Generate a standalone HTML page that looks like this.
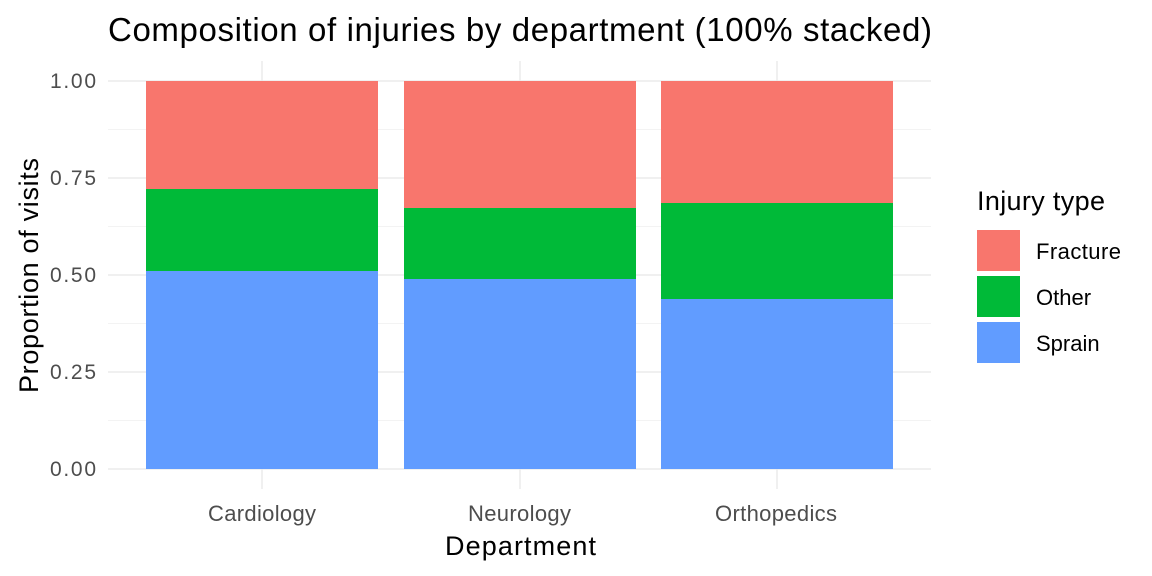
<!DOCTYPE html>
<html><head><meta charset="utf-8"><style>
html,body{margin:0;padding:0;background:#fff;}
svg{display:block;font-family:"Liberation Sans",Arial,sans-serif;}
</style></head><body>
<svg width="1152" height="576" viewBox="0 0 1152 576" xmlns="http://www.w3.org/2000/svg">
<rect width="1152" height="576" fill="#fff"/>
<g stroke="#f3f3f3" stroke-width="1">
<line x1="108" x2="931" y1="129.5" y2="129.5"/>
<line x1="108" x2="931" y1="226.5" y2="226.5"/>
<line x1="108" x2="931" y1="323.5" y2="323.5"/>
<line x1="108" x2="931" y1="420.5" y2="420.5"/>
</g>
<g stroke="#ebebeb" stroke-width="1.5">
<line x1="108" x2="931" y1="81" y2="81"/>
<line x1="108" x2="931" y1="178" y2="178"/>
<line x1="108" x2="931" y1="275" y2="275"/>
<line x1="108" x2="931" y1="372" y2="372"/>
<line x1="108" x2="931" y1="469" y2="469"/>
<line x1="262" x2="262" y1="61" y2="489"/>
<line x1="520" x2="520" y1="61" y2="489"/>
<line x1="777" x2="777" y1="61" y2="489"/>
</g>
<rect x="146" y="81" width="232" height="108" fill="#F8766D"/>
<rect x="146" y="189" width="232" height="82" fill="#00BA38"/>
<rect x="146" y="271" width="232" height="198" fill="#619CFF"/>
<rect x="404" y="81" width="232" height="127" fill="#F8766D"/>
<rect x="404" y="208" width="232" height="71" fill="#00BA38"/>
<rect x="404" y="279" width="232" height="190" fill="#619CFF"/>
<rect x="661" y="81" width="232" height="122" fill="#F8766D"/>
<rect x="661" y="203" width="232" height="96" fill="#00BA38"/>
<rect x="661" y="299" width="232" height="170" fill="#619CFF"/>
<g fill="#4d4d4d" font-size="21">
<text x="50" y="88" textLength="46">1.00</text>
<text x="50" y="185" textLength="46">0.75</text>
<text x="50" y="282" textLength="46">0.50</text>
<text x="50" y="379" textLength="46">0.25</text>
<text x="50" y="476" textLength="46">0.00</text>
</g>
<g fill="#4d4d4d" font-size="22">
<text x="208" y="521" textLength="108">Cardiology</text>
<text x="468" y="521" textLength="103">Neurology</text>
<text x="715" y="521" textLength="122">Orthopedics</text>
</g>
<text x="445" y="555" font-size="27" textLength="151" fill="#000">Department</text>
<text transform="translate(38,393) rotate(-90)" font-size="27" textLength="235" fill="#000">Proportion of visits</text>
<text x="108" y="41" font-size="33" textLength="824" fill="#000">Composition of injuries by department (100% stacked)</text>
<text x="977" y="210" font-size="27" textLength="128" fill="#000">Injury type</text>
<rect x="977" y="230" width="43" height="41" fill="#F8766D"/>
<rect x="977" y="276" width="43" height="41" fill="#00BA38"/>
<rect x="977" y="322" width="43" height="41" fill="#619CFF"/>
<g font-size="22" fill="#000">
<text x="1036" y="259" textLength="85">Fracture</text>
<text x="1036" y="305">Other</text>
<text x="1036" y="351">Sprain</text>
</g>
</svg>
</body></html>
